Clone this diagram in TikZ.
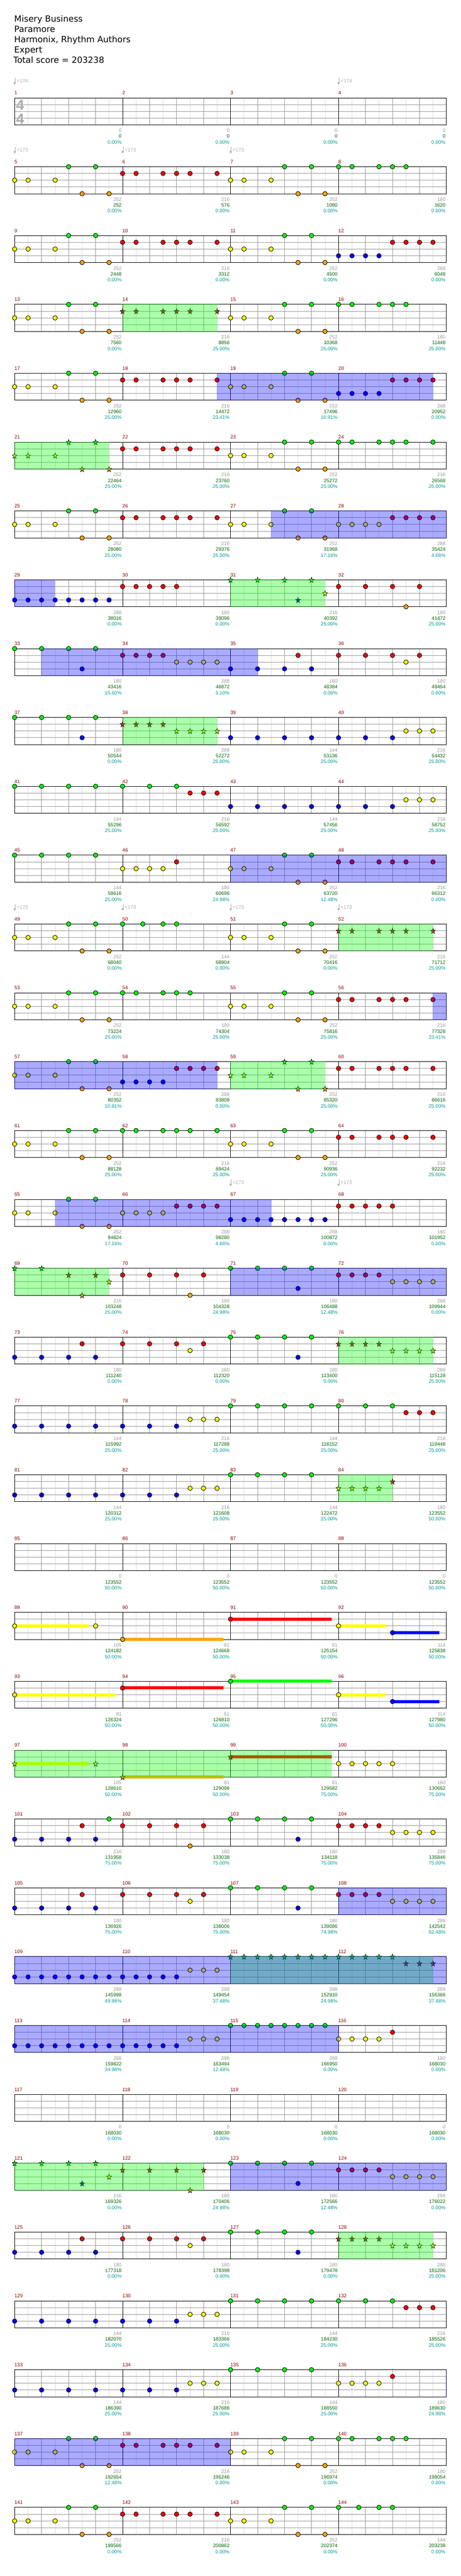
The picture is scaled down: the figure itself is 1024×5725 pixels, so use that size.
\documentclass[tikz,border=0pt]{standalone}
\usepackage{fontspec}
\setmainfont{Liberation Sans}
\newfontfamily\titlefont{DejaVu Sans}
\definecolor{lane0}{HTML}{00FF00}
\definecolor{lane1}{HTML}{FF0000}
\definecolor{lane2}{HTML}{FFFF00}
\definecolor{lane3}{HTML}{0000FF}
\definecolor{lane4}{HTML}{FFA500}
\definecolor{gridgray}{HTML}{999999}
\definecolor{gridlight}{HTML}{DDDDDD}
\definecolor{measred}{HTML}{8B0000}
\definecolor{scoregreen}{HTML}{006400}
\definecolor{pctteal}{HTML}{009999}
\definecolor{labelgray}{HTML}{999999}
\definecolor{markgray}{HTML}{AAAAAA}
\tikzset{
  small label/.style={inner sep=0pt,font=\fontsize{11}{13}\selectfont},
  measure label/.style={small label,text=measred,anchor=base west},
  gain label/.style={small label,text=labelgray,anchor=base east},
  score label/.style={small label,text=scoregreen,anchor=base east},
  pct label/.style={small label,text=pctteal,anchor=base east},
  title line/.style={inner sep=0pt,anchor=base west,font=\titlefont\fontsize{19}{23}\selectfont},
  meter/.style={inner sep=0pt,anchor=base,text=markgray,font=\fontsize{32}{34}\selectfont\bfseries},
  tempo label/.style={small label,text=markgray,anchor=base west},
  note/.style={draw=black,line width=1pt},
  starnote/.style={draw=black,line width=.8pt,line join=miter},
  overlay/.style={opacity=.333}
}
\newcommand{\Staff}[2]{%
  \pgfmathsetmacro{\rowtop}{217.5+153*(#1-1)}%
  \foreach \i in {1,3,...,31} \draw[gridlight,line width=1pt] ({32.5+30*\i},\rowtop) -- ++(0pt,-60pt);%
  \foreach \i in {2,4,6,10,12,14,18,20,22,26,28,30} \draw[gridgray,line width=1pt] ({32.5+30*\i},\rowtop) -- ++(0pt,-60pt);%
  \foreach \l in {1,2,3} \draw[gridgray,line width=1pt] (32.5,{\rowtop+15*\l}) -- ++(960pt,0pt);%
  \foreach \i in {8,16,24} \draw[black,line width=.8pt] ({32.5+30*\i},\rowtop) -- ++(0pt,-60pt);%
  \draw[black,line width=1pt] (32.5,\rowtop) rectangle (992.5,{\rowtop+60});%
  \foreach \gv/\sv/\pv [count=\j from 1] in {#2} {%
    \pgfmathtruncatemacro{\mnum}{4*(#1-1)+\j}%
    \node[measure label] (m\mnum) at ({32+240*(\j-1)},{\rowtop-7}) {\mnum};%
    \node[gain label] (g\mnum) at ({32+240*\j-1.5},{\rowtop+76.5}) {\gv};%
    \node[score label] (s\mnum) at ({32+240*\j-1.5},{\rowtop+89.3}) {\sv};%
    \node[pct label] (p\mnum) at ({32+240*\j-1.5},{\rowtop+102.3}) {\pv\%};%
  }%
}
\newcommand{\NT}[2]{\foreach \i in {#2} \draw[note,fill=lane#1] ({32.5+30*\i},{\rowtop+15*#1}) circle (5pt);}
\newcommand{\ST}[2]{\foreach \i in {#2} \draw[starnote,fill=lane#1] ({32.5+30*\i},{\rowtop+15*#1+.7})
  +(0pt,6.5pt) -- +(-1.32pt,2.1pt) -- +(-5.33pt,2.01pt) -- +(-2.13pt,-.8pt) -- +(-3.29pt,-5.26pt) -- +(0pt,-2.6pt)
  -- +(3.29pt,-5.26pt) -- +(2.13pt,-.8pt) -- +(5.33pt,2.01pt) -- +(1.32pt,2.1pt) -- cycle;}
\newcommand{\HD}[3]{\fill[lane#1] ({32.5+30*#2},{\rowtop+15*#1-3.4}) rectangle ({32.5+30*#3},{\rowtop+15*#1+3.4});}
\newcommand{\OvG}[2]{\fill[overlay,lane0] ({32.5+30*#1-.5},{\rowtop-.5}) rectangle ({32.5+30*#2+.5},{\rowtop+60.5});}
\newcommand{\OvB}[2]{\fill[overlay,lane3] ({32.5+30*#1-.5},{\rowtop-.5}) rectangle ({32.5+30*#2+.5},{\rowtop+60.5});}
\newcommand{\Tempo}[2]{%
  \draw[markgray,line width=1pt] ({34+30*#1},{\rowtop-44.5}) -- ({34+30*#1},{\rowtop-33});%
  \fill[markgray] ({32.7+30*#1},{\rowtop-32.8}) circle (2.3pt);%
  \node[tempo label] at ({37.2+30*#1},{\rowtop-33.3}) {=#2};%
}
\begin{document}
\begin{tikzpicture}[x=1pt,y=-1pt]
\useasboundingbox[fill=white] (0,0) rectangle (1024,5725);
\node[title line] (t1) at (31.5,48.3) {Misery Business};
\node[title line] (t2) at (31.5,71.3) {Paramore};
\node[title line] (t3) at (31.5,94.3) {Harmonix, Rhythm Authors};
\node[title line] (t4) at (31.5,117.3) {Expert};
\node[title line] (t5) at (29.5,140.6) {Total score = 203238};
% row 1
\Staff{1}{0/0/0.00,0/0/0.00,0/0/0.00,0/0/0.00}
\Tempo{0}{174}\Tempo{24}{174}
\node[meter] (ts1) at (44.7,245) {4};
\node[meter] (ts2) at (44.7,275) {4};
% row 2
\Staff{2}{252/252/0.00,216/576/0.00,252/1080/0.00,180/1620/0.00}
\Tempo{0}{173}\Tempo{8}{173}\Tempo{16}{173}
\NT{0}{4,6,20,22,24,25,27,28,29}\NT{1}{8,9,11,12,13,15}\NT{2}{0,1,3,16,17,19}\NT{4}{5,7,21,23}
% row 3
\Staff{3}{252/2448/0.00,216/3312/0.00,252/4500/0.00,288/6048/0.00}
\NT{0}{4,6,20,22}\NT{1}{8,9,11,12,13,15,28,29,30,31}\NT{2}{0,1,3,16,17,19}\NT{3}{24,25,26,27}\NT{4}{5,7,21,23}
% row 4
\Staff{4}{252/7560/0.00,216/8856/25.00,252/10368/25.00,180/11448/25.00}
\NT{0}{4,6,20,22,24,25,27,28,29}\ST{1}{8,9,11,12,13,15}\NT{2}{0,1,3,16,17,19}\NT{4}{5,7,21,23}
\OvG{8}{15}
% row 5
\Staff{5}{252/12960/25.00,216/14472/23.41,252/17496/10.91,288/20952/0.00}
\NT{0}{4,6,20,22}\NT{1}{8,9,11,12,13,15,28,29,30,31}\NT{2}{0,1,3,16,17,19}\NT{3}{24,25,26,27}\NT{4}{5,7,21,23}
\OvB{15}{31}
% row 6
\Staff{6}{252/22464/25.00,216/23760/25.00,252/25272/25.00,216/26568/25.00}
\ST{0}{4,6}\ST{2}{0,1,3}\ST{4}{5,7}
\NT{0}{20,22,24,25,27,28,29,31}\NT{1}{8,9,11,12,13,15}\NT{2}{16,17,19}\NT{4}{21,23}
\OvG{0}{7}
% row 7
\Staff{7}{252/28080/25.00,216/29376/25.00,252/31968/17.16,288/35424/4.66}
\NT{0}{4,6,20,22}\NT{1}{8,9,11,12,13,15,28,29,30,31}\NT{2}{0,1,3,16,17,19,24,25,26,27}\NT{4}{5,7,21,23}
\OvB{19}{32}
% row 8
\Staff{8}{288/38016/0.00,180/39096/0.00,216/40392/25.00,180/41472/25.00}
\NT{3}{0,1,2,3,4,5,6,7}\NT{1}{8,9,10,11,12,24,26,28,30}\NT{4}{29}
\ST{0}{16,18,20,22}\ST{2}{23}\ST{3}{21}
\OvB{0}{3}\OvG{16}{23}
% row 9
\Staff{9}{180/43416/15.60,288/46872/3.10,180/48384/0.00,180/49464/0.00}
\NT{0}{0,2,4,6}\NT{1}{8,9,10,11,21,24,26,28,30}\NT{2}{12,13,14,15,29}\NT{3}{5,16,18,20,22}
\OvB{2}{18}
% row 10
\Staff{10}{180/50544/0.00,288/52272/25.00,144/53136/25.00,216/54432/25.00}
\NT{0}{0,2,4,6}\ST{1}{8,9,10,11}\ST{2}{12,13,14,15}\NT{3}{5,16,18,20,22,24,26,28}\NT{2}{29,30,31}
\OvG{8}{15}
% row 11
\Staff{11}{144/55296/25.00,216/56592/25.00,144/57456/25.00,216/58752/25.00}
\NT{0}{0,2,4,6,8,10,12}\NT{1}{13,14,15}\NT{3}{16,18,20,22,24,26,28}\NT{2}{29,30,31}
% row 12
\Staff{12}{144/59616/25.00,180/60696/24.98,252/63720/12.48,216/66312/0.00}
\NT{0}{0,2,4,6,20,22}\NT{2}{8,9,10,11,16,17,19}\NT{1}{12,24,25,27,28,29,31}\NT{4}{21,23}
\OvB{16}{32}
% row 13
\Staff{13}{252/68040/0.00,144/68904/0.00,252/70416/0.00,216/71712/25.00}
\Tempo{0}{173}\Tempo{8}{173}\Tempo{16}{173}\Tempo{24}{173}
\NT{0}{4,6,8,9.5,11,12,20,22}\NT{2}{0,1,3,16,17,19}\NT{4}{5,7,21,23}\ST{1}{24,25,27,28,29,31}
\OvG{24}{31}
% row 14
\Staff{14}{252/73224/25.00,180/74304/25.00,252/75816/25.00,216/77328/23.41}
\NT{0}{4,6,8,9,11,12,13,20,22}\NT{2}{0,1,3,16,17,19}\NT{4}{5,7,21,23}\NT{1}{24,25,27,28,29,31}
\OvB{31}{32}
% row 15
\Staff{15}{252/80352/10.91,288/83808/0.00,252/85320/25.00,216/86616/25.00}
\NT{0}{4,6}\NT{2}{0,1,3}\NT{1}{12,13,14,15,24,25,27,28,29,31}\NT{3}{8,9,10,11}\NT{4}{5,7}
\ST{0}{20,22}\ST{2}{16,17,19}\ST{4}{21,23}
\OvB{0}{15}\OvG{16}{23}
% row 16
\Staff{16}{252/88128/25.00,216/89424/25.00,252/90936/25.00,216/92232/25.00}
\NT{0}{4,6,8,9,11,12,13,15,20,22}\NT{2}{0,1,3,16,17,19}\NT{4}{5,7,21,23}\NT{1}{24,25,27,28,29,31}
% row 17
\Staff{17}{252/94824/17.16,288/98280/4.66,288/100872/0.00,180/101952/0.00}
\Tempo{16}{173}\Tempo{24}{173}
\NT{0}{4,6}\NT{2}{0,1,3,8,9,10,11}\NT{1}{12,13,14,15,24,25,26,27,28}\NT{3}{16,17,18,19,20,21,22,23}\NT{4}{5,7}
\OvB{3}{19}
% row 18
\Staff{18}{216/103248/25.00,180/104328/24.98,180/106488/12.48,288/109944/0.00}
\ST{0}{0,2}\ST{1}{4,6}\ST{2}{7}\ST{4}{5}
\NT{1}{8,10,12,14,24,25,26,27}\NT{4}{13}\NT{0}{16,18,20,22}\NT{2}{28,29,30,31}\NT{3}{21}
\OvG{0}{7}\OvB{16}{32}
% row 19
\Staff{19}{180/111240/0.00,180/112320/0.00,180/113400/0.00,288/115128/25.00}
\NT{3}{0,2,4,6,21}\NT{1}{5,8,10,12,14}\NT{2}{13}\NT{0}{16,18,20,22}\ST{1}{24,25,26,27}\ST{2}{28,29,30,31}
\OvG{24}{31}
% row 20
\Staff{20}{144/115992/25.00,216/117288/25.00,144/118152/25.00,216/119448/25.00}
\NT{3}{0,2,4,6,8,10,12}\NT{2}{13,14,15}\NT{0}{16,18,20,22,24,26,28}\NT{1}{29,30,31}
% row 21
\Staff{21}{144/120312/25.00,216/121608/25.00,144/122472/25.00,180/123552/50.00}
\NT{3}{0,2,4,6,8,10,12}\NT{2}{13,14,15}\NT{0}{16,18,20,22}\ST{2}{24,25,26,27}\ST{1}{28}
\OvG{24}{28}
% row 22
\Staff{22}{0/123552/50.00,0/123552/50.00,0/123552/50.00,0/123552/50.00}
% row 23
\Staff{23}{105/124182/50.00,81/124668/50.00,81/125154/50.00,114/125838/50.00}
\HD{2}{0}{5.48}\HD{4}{8}{15.47}\HD{1}{16}{23.48}\HD{2}{24}{27.5}\HD{3}{28}{31.48}
\NT{2}{0,6,24}\NT{4}{8}\NT{1}{16}\NT{3}{28}
% row 24
\Staff{24}{81/126324/50.00,81/126810/50.00,81/127296/50.00,114/127980/50.00}
\HD{2}{0}{7.48}\HD{1}{8}{15.47}\HD{0}{16}{23.48}\HD{2}{24}{27.5}\HD{3}{28}{31.48}
\NT{2}{0,24}\NT{1}{8}\NT{0}{16}\NT{3}{28}
% row 25
\Staff{25}{105/128610/50.00,81/129096/50.00,81/129582/75.00,180/130662/75.00}
\HD{2}{0}{5.48}\HD{4}{8}{15.47}\HD{1}{16}{23.48}
\ST{2}{0,6}\ST{4}{8}\ST{1}{16}\NT{2}{24,25,26,27,28}
\OvG{0}{23.48}
% row 26
\Staff{26}{216/131958/75.00,180/133038/75.00,180/134118/75.00,288/135846/75.00}
\NT{3}{0,2,4,6,21}\NT{1}{5,8,10,12,14,24,25,26,27}\NT{0}{7,16,18,20,22}\NT{4}{13}\NT{2}{28,29,30,31}
% row 27
\Staff{27}{180/136926/75.00,180/138006/75.00,180/139086/74.98,288/142542/62.48}
\NT{3}{0,2,4,6,21}\NT{1}{5,8,10,12,14,24,25,26,27}\NT{2}{13,28,29,30,31}\NT{0}{16,18,20,22}
\OvB{24}{32}
% row 28
\Staff{28}{288/145998/49.98,288/149454/37.48,288/152910/24.98,288/156366/37.48}
\NT{3}{0,1,2,3,4,5,6,7,8,9,10,11,12}\NT{2}{13,14,15}
\ST{0}{16,17,18,19,20,21,22,23,24,25,26,27,28}\ST{1}{29,30,31}
\OvG{16}{31}\OvB{0}{32}
% row 29
\Staff{29}{288/159822/24.98,288/163494/12.48,288/166950/0.00,180/168030/0.00}
\NT{3}{0,1,2,3,4,5,6,7,8,9,10,11,12}\NT{2}{13,14,15,24,25,26,27}\NT{0}{16,17,18,19,20,21,22,23}\NT{1}{28}
\OvB{0}{24}
% row 30
\Staff{30}{0/168030/0.00,0/168030/0.00,0/168030/0.00,0/168030/0.00}
% row 31
\Staff{31}{216/169326/0.00,180/170406/24.98,180/172566/12.48,288/176022/0.00}
\ST{0}{0,2,4,6}\ST{1}{8,10,12,14}\ST{2}{7}\ST{3}{5}\ST{4}{13}
\NT{0}{16,18,20,22}\NT{3}{21}\NT{1}{24,25,26,27}\NT{2}{28,29,30,31}
\OvG{0}{14}\OvB{16}{32}
% row 32
\Staff{32}{180/177318/0.00,180/178398/0.00,180/179478/0.00,288/181206/25.00}
\NT{3}{0,2,4,6,21}\NT{1}{5,8,10,12,14}\NT{2}{13}\NT{0}{16,18,20,22}\ST{1}{24,25,26,27}\ST{2}{28,29,30,31}
\OvG{24}{31}
% row 33
\Staff{33}{144/182070/25.00,216/183366/25.00,144/184230/25.00,216/185526/25.00}
\NT{3}{0,2,4,6,8,10,12}\NT{2}{13,14,15}\NT{0}{16,18,20,22,24,26,28}\NT{1}{29,30,31}
% row 34
\Staff{34}{144/186390/25.00,216/187686/25.00,144/188550/25.00,180/189630/24.98}
\NT{3}{0,2,4,6,8,10,12}\NT{2}{13,14,15,24,25,26,27}\NT{0}{16,18,20,22}\NT{1}{28}
\OvB{31.98}{32}
% row 35
\Staff{35}{252/192654/12.48,216/195246/0.00,252/196974/0.00,180/198054/0.00}
\NT{0}{4,6,20,22,24,25,27,28,29}\NT{1}{8,9,11,12,13,15}\NT{2}{0,1,3,16,17,19}\NT{4}{5,7,21,23}
\OvB{0}{16}
% row 36
\Staff{36}{252/199566/0.00,216/200862/0.00,252/202374/0.00,144/203238/0.00}
\NT{0}{4,6,20,22,24,25.5,27,28}\NT{1}{8,9,11,12,13,15}\NT{2}{0,1,3,16,17,19}\NT{4}{5,7,21,23}
\end{tikzpicture}
\end{document}
